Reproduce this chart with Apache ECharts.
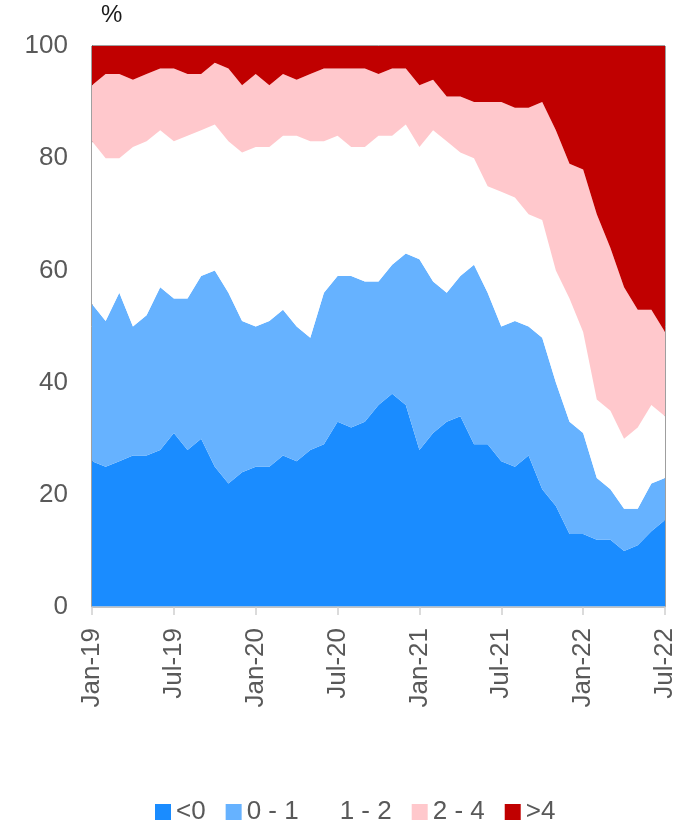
<!DOCTYPE html>
<html>
<head>
<meta charset="utf-8">
<script src="https://cdn.jsdelivr.net/npm/echarts@6/dist/echarts.min.js"></script>
<style>
  html, body { margin: 0; padding: 0; background: #fff; }
  #areaChart { width: 694px; height: 823px; }
</style>
</head>
<body>
<div id="areaChart"></div>
<script>
// 月份类目
var months = [
  'Jan-19', 'Feb-19', 'Mar-19', 'Apr-19', 'May-19', 'Jun-19', 'Jul-19', 'Aug-19', 'Sep-19', 'Oct-19', 'Nov-19', 'Dec-19',
  'Jan-20', 'Feb-20', 'Mar-20', 'Apr-20', 'May-20', 'Jun-20', 'Jul-20', 'Aug-20', 'Sep-20', 'Oct-20', 'Nov-20', 'Dec-20',
  'Jan-21', 'Feb-21', 'Mar-21', 'Apr-21', 'May-21', 'Jun-21', 'Jul-21', 'Aug-21', 'Sep-21', 'Oct-21', 'Nov-21', 'Dec-21',
  'Jan-22', 'Feb-22', 'Mar-22', 'Apr-22', 'May-22', 'Jun-22', 'Jul-22'
];

// 各区间占比 (%)
var belowZero = [26, 25, 26, 27, 27, 28, 31, 28, 30, 25, 22, 24, 25, 25, 27, 26, 28, 29, 33, 32, 33, 36, 38, 36,
  28, 31, 33, 34, 29, 29, 26, 25, 27, 21, 18, 13, 13, 12, 12, 10, 11, 13.5, 15.5];
var zeroToOne = [28, 26, 30, 23, 25, 29, 24, 27, 29, 35, 34, 27, 25, 26, 26, 24, 20, 27, 26, 27, 25, 22, 23, 27,
  34, 27, 23, 25, 32, 27, 24, 26, 23, 27, 22, 20, 18, 11, 9, 7.5, 6.5, 8.5, 7.5];
var oneToTwo = [29, 29, 24, 32, 31, 28, 28, 29, 26, 26, 27, 30, 32, 31, 31, 34, 35, 27, 25, 23, 24, 26, 23, 23,
  20, 27, 27, 22, 19, 19, 24, 22, 20, 21, 20, 22, 18, 14, 14, 12.5, 14.5, 14, 11];
var twoToFour = [10, 15, 15, 12, 12, 11, 13, 11, 10, 11, 13, 12, 13, 11, 11, 10, 12, 13, 12, 14, 14, 11, 12, 10,
  11, 9, 8, 10, 10, 15, 16, 16, 19, 21, 25, 24, 29, 33, 29, 27, 21, 17, 15];
var aboveFour = [7, 5, 5, 6, 5, 4, 4, 5, 5, 3, 4, 7, 5, 7, 5, 6, 5, 4, 4, 4, 4, 5, 4, 4,
  7, 6, 9, 9, 10, 10, 10, 11, 11, 10, 15, 21, 22, 30, 36, 43, 47, 47, 51];

var seriesNames = ['<0', '0 - 1', '1 - 2', '2 - 4', '>4'];
var seriesColors = ['#1a8cff', '#66b2ff', '#ffffff', '#ffc8cc', '#c00000'];
var seriesValues = [belowZero, zeroToOne, oneToTwo, twoToFour, aboveFour];

var fontName = '"Liberation Sans", Arial, sans-serif';

var series = [];
for (var i = 0; i < seriesNames.length; i++) {
  series.push({
    name: seriesNames[i],
    type: 'line',
    stack: 'total',
    data: seriesValues[i],
    symbol: 'none',
    lineStyle: { width: 0 },
    areaStyle: { color: seriesColors[i], opacity: 1 },
    itemStyle: { color: seriesColors[i] }
  });
}

var myChart = echarts.init(document.getElementById('areaChart'));
myChart.setOption({
  animation: false,
  textStyle: { fontFamily: fontName },
  grid: {
    left: 92,
    right: 29,
    top: 46,
    bottom: 216,
    show: true,
    borderColor: '#404040',
    borderWidth: 1,
    z: 3
  },
  graphic: [{
    type: 'text',
    left: 101,
    top: 3,
    style: { text: '%', fontSize: 24, fill: '#1a1a1a', fontFamily: fontName }
  }],
  legend: {
    left: 150,
    top: 794,
    icon: 'rect',
    itemWidth: 16,
    itemHeight: 16,
    itemGap: 20,
    textStyle: { fontSize: 26, color: '#595959', fontFamily: fontName },
    data: seriesNames
  },
  xAxis: {
    type: 'category',
    data: months,
    boundaryGap: false,
    axisLine: { lineStyle: { color: '#d0d0d0', width: 1.5 } },
    axisTick: { interval: 5, length: 8, lineStyle: { color: '#d0d0d0', width: 1.5 } },
    axisLabel: {
      interval: 5,
      rotate: 90,
      margin: 21,
      fontSize: 26,
      color: '#595959',
      fontFamily: fontName
    },
    splitLine: { show: false },
    z: 4
  },
  yAxis: {
    type: 'value',
    min: 0,
    max: 100,
    interval: 20,
    axisLine: { show: true, lineStyle: { color: '#404040' } },
    axisTick: { show: false },
    axisLabel: { margin: 24, fontSize: 26, color: '#595959', fontFamily: fontName },
    splitLine: { show: false }
  },
  series: series
});
</script>
</body>
</html>
